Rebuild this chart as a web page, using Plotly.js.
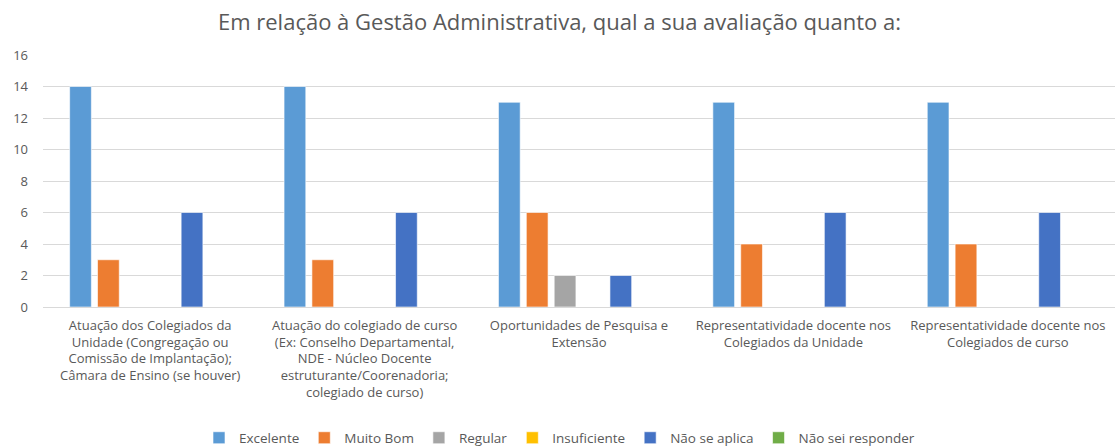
<!DOCTYPE html>
<html>
<head>
<meta charset="utf-8">
<script src="https://cdn.plot.ly/plotly-3.0.1.min.js"></script>
<style>html,body{margin:0;padding:0;background:#fff;}#chart{width:1119px;height:446px;}</style>
</head>
<body>
<div id="chart"></div>
<script>
const categories = [
  "Atuação dos Colegiados da<br>Unidade (Congregação ou<br>Comissão de Implantação);<br>Câmara de Ensino (se houver)",
  "Atuação do colegiado de curso<br>(Ex: Conselho Departamental,<br>NDE - Núcleo Docente<br>estruturante/Coorenadoria;<br>colegiado de curso)",
  "Oportunidades de Pesquisa e<br>Extensão",
  "Representatividade docente nos<br>Colegiados da Unidade",
  "Representatividade docente nos<br>Colegiados de curso"
];
const excelente = [14, 14, 13, 13, 13];
const muitoBom = [3, 3, 6, 4, 4];
const regular = [0, 0, 2, 0, 0];
const insuficiente = [0, 0, 0, 0, 0];
const naoSeAplica = [6, 6, 2, 6, 6];
const naoSeiResponder = [0, 0, 0, 0, 0];
const seriesNames = ["Excelente", "Muito Bom", "Regular", "Insuficiente", "Não se aplica", "Não sei responder"];
const seriesValues = [excelente, muitoBom, regular, insuficiente, naoSeAplica, naoSeiResponder];
const colors = ["#5B9BD5", "#ED7D31", "#A5A5A5", "#FFC000", "#4472C4", "#70AD47"];

const traces = seriesNames.map((n, i) => ({
  type: 'bar', name: n, x: categories, y: seriesValues[i],
  marker: {color: colors[i], line: {color: 'rgba(255,255,255,0.6)', width: 1}},
  hoverinfo: 'skip'
}));

const font = "'Open Sans', sans-serif";
const layout = {
  width: 1119, height: 446,
  margin: {l: 43, r: 4, t: 55, b: 139},
  paper_bgcolor: '#fff', plot_bgcolor: '#fff',
  title: {text: "Em relação à Gestão Administrativa, qual a sua avaliação quanto a:", font: {family: font, size: 22, color: '#595959'}, x: 0.5, xanchor: 'center', y: 0.95, yanchor: 'middle', yref: 'container'},
  barmode: 'group', bargap: 0.22, bargroupgap: 0.22,
  xaxis: {tickfont: {family: font, size: 13, color: '#595959'}, showline: true, linecolor: '#D9D9D9', ticks: '', tickangle: 0, automargin: false, ticklabelstandoff: 6},
  yaxis: {range: [0, 16], dtick: 2, gridcolor: '#D9D9D9', zeroline: false, tickfont: {family: font, size: 13, color: '#595959'}, ticks: '', ticklen: 0, ticklabelstandoff: 14, automargin: false},
  legend: {orientation: 'h', x: 0.5, xanchor: 'center', xref: 'container', y: 0.018, yanchor: 'middle', yref: 'container', font: {family: font, size: 13.5, color: '#595959'}, traceorder: 'normal', itemwidth: 30},
  showlegend: true
};
Plotly.newPlot('chart', traces, layout, {displayModeBar: false, staticPlot: true});
</script>
</body>
</html>
